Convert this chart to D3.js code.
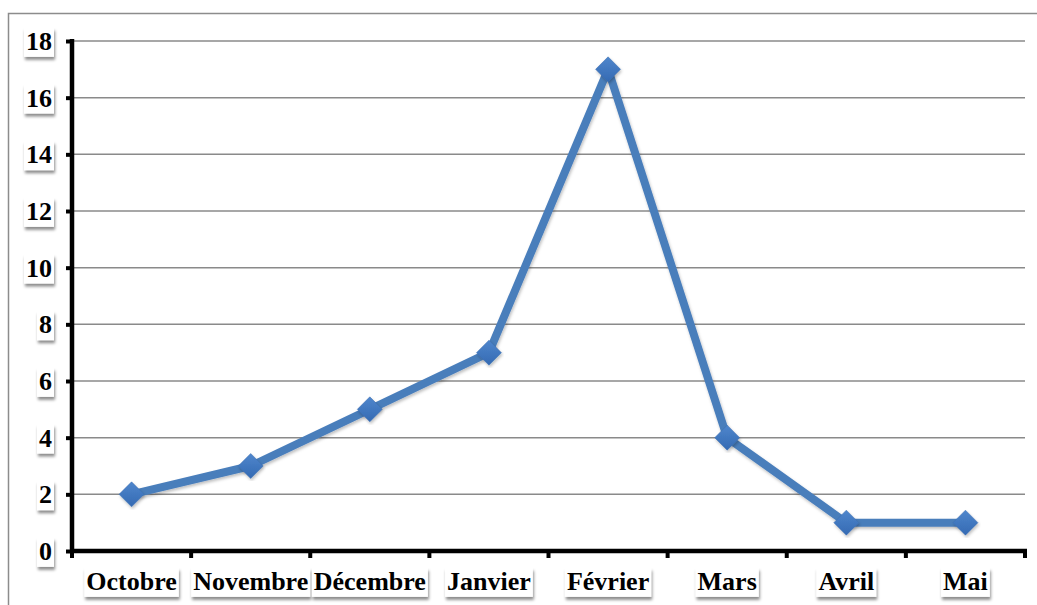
<!DOCTYPE html>
<html>
<head>
<meta charset="utf-8">
<script src="https://cdn.jsdelivr.net/npm/d3@7"></script>
<style>
  html, body { margin: 0; padding: 0; background: #fff; }
  svg { display: block; }
  .lbl { font-family: "Liberation Serif", "Times New Roman", "DejaVu Serif", serif; font-weight: bold; font-size: 26px; }
</style>
</head>
<body>
<svg id="chart" width="1037" height="605"></svg>
<script>
// Monthly counts, October to May
const months = ["Octobre", "Novembre", "Décembre", "Janvier", "Février", "Mars", "Avril", "Mai"];
const counts = [2, 3, 5, 7, 17, 4, 1, 1];
const yTicks = [0, 2, 4, 6, 8, 10, 12, 14, 16, 18];

const svg = d3.select("#chart");
const W = 1037, H = 605;
const m = { left: 72, right: 1025, top: 41, bottom: 551 };

const defs = svg.append("defs");
const sh = defs.append("filter").attr("id", "boxShadow")
  .attr("x", "-30%").attr("y", "-30%").attr("width", "160%").attr("height", "170%");
sh.append("feDropShadow").attr("dx", 1).attr("dy", 3).attr("stdDeviation", 1.6)
  .attr("flood-color", "#000").attr("flood-opacity", 0.45);
const lsh = defs.append("filter").attr("id", "lineShadow")
  .attr("x", "-10%").attr("y", "-10%").attr("width", "120%").attr("height", "120%");
lsh.append("feDropShadow").attr("dx", 1).attr("dy", 2).attr("stdDeviation", 1.5)
  .attr("flood-color", "#000").attr("flood-opacity", 0.25);
const grad = defs.append("linearGradient").attr("id", "markerFill")
  .attr("x1", 0).attr("y1", 0).attr("x2", 0).attr("y2", 1);
grad.append("stop").attr("offset", "0%").attr("stop-color", "#4f86cc");
grad.append("stop").attr("offset", "100%").attr("stop-color", "#346ab3");

// outer frame
svg.append("path").attr("d", `M8.5,${H} V13.5 H${W}`)
  .attr("fill", "none").attr("stroke", "#8c8c8c").attr("stroke-width", 1.5);

const x = d3.scaleBand().domain(months).range([m.left, m.right]);
const y = d3.scaleLinear().domain([0, 18]).range([m.bottom, m.top]);

// horizontal gridlines
svg.append("g").selectAll("line").data(yTicks.filter(d => d > 0)).join("line")
  .attr("x1", m.left).attr("x2", m.right)
  .attr("y1", d => y(d)).attr("y2", d => y(d))
  .attr("stroke", "#8a8a8a").attr("stroke-width", 1.5);

// y axis
const yAxis = svg.append("g").attr("transform", `translate(${m.left},0)`)
  .call(d3.axisLeft(y).tickValues(yTicks).tickSize(6).tickFormat(""));
yAxis.select(".domain").attr("stroke", "#000").attr("stroke-width", 4.5)
  .attr("d", `M0,${m.top - 2}V${m.bottom}`);
yAxis.selectAll(".tick line").attr("stroke", "#000").attr("stroke-width", 4);

// x axis with ticks at category boundaries
const xAxis = svg.append("g").attr("transform", `translate(0,${m.bottom})`);
xAxis.append("line").attr("x1", m.left - 2).attr("x2", m.right + 2)
  .attr("stroke", "#000").attr("stroke-width", 4.5);
const bounds = months.map(d => x(d)).concat([m.right]);
xAxis.selectAll("line.tk").data(bounds).join("line").attr("class", "tk")
  .attr("x1", d => d).attr("x2", d => d).attr("y1", 0).attr("y2", 7)
  .attr("stroke", "#000").attr("stroke-width", 4);

function boxedLabel(g, text, px, cy, anchor) {
  const t = g.append("text").attr("class", "lbl").attr("x", px).attr("y", cy)
    .attr("text-anchor", anchor).attr("dy", "0.34em")
    .attr("fill", "#000").text(text);
  const b = t.node().getBBox();
  g.insert("rect", "text")
    .attr("x", b.x - 2).attr("y", b.y + 1).attr("width", b.width + 4).attr("height", b.height)
    .attr("fill", "#fff").attr("filter", "url(#boxShadow)");
}

// y labels
yTicks.forEach(v => {
  boxedLabel(svg.append("g"), String(v), 52, y(v), "end");
});

// x labels
months.forEach(mo => {
  boxedLabel(svg.append("g"), mo, x(mo) + x.bandwidth() / 2, 581, "middle");
});

// series line
const line = d3.line().x((d, i) => x(months[i]) + x.bandwidth() / 2).y(d => y(d));
svg.append("path").datum(counts).attr("d", line)
  .attr("fill", "none").attr("stroke", "#4a7ebb").attr("stroke-width", 8)
  .attr("stroke-linejoin", "round").attr("filter", "url(#lineShadow)");

// diamond markers
const r = 12.5;
svg.append("g").selectAll("path").data(counts).join("path")
  .attr("transform", (d, i) => `translate(${x(months[i]) + x.bandwidth() / 2},${y(d)})`)
  .attr("d", `M0,${-r}L${r},0L0,${r}L${-r},0Z`)
  .attr("fill", "url(#markerFill)").attr("stroke", "#3c6fb0").attr("stroke-width", 0.5)
  .attr("filter", "url(#lineShadow)");
</script>
</body>
</html>
